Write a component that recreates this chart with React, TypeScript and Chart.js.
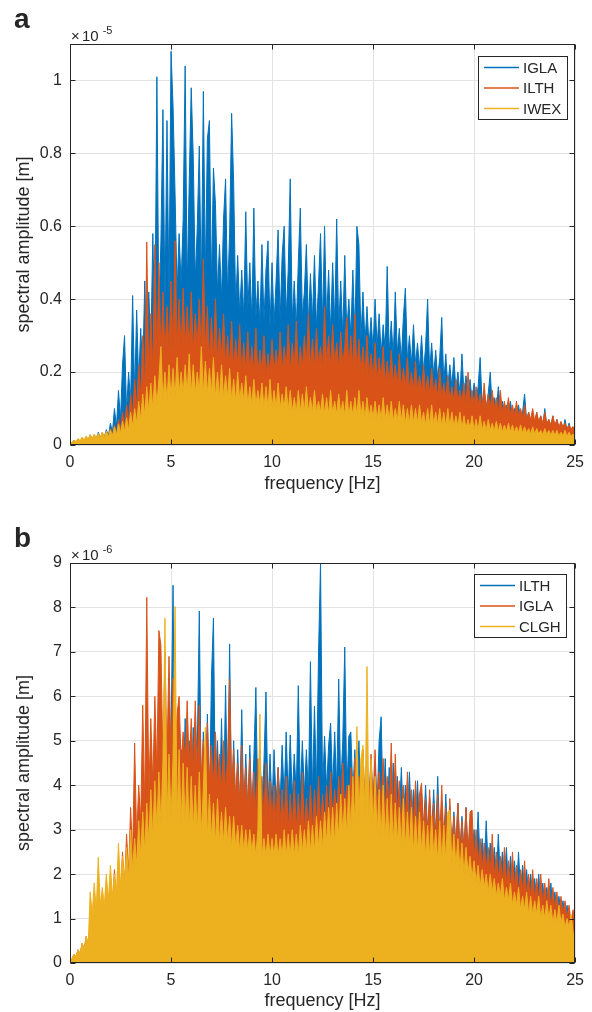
import React, { useEffect, useRef } from "react";
import { Chart, registerables } from "chart.js";

Chart.register(...registerables);

// ---------------- data ----------------
const FREQ_STEP = 0.1; // Hz between spectral samples (0 … 25 Hz)
const X_TICKS = [0, 5, 10, 15, 20, 25];
const X_TICK_LABELS = ["0", "5", "10", "15", "20", "25"];

const Y_TICKS_A = [0, 0.2, 0.4, 0.6, 0.8, 1];
const Y_TICK_LABELS_A = ["0", "0.2", "0.4", "0.6", "0.8", "1"];
const Y_TICKS_B = [0, 1, 2, 3, 4, 5, 6, 7, 8, 9];
const Y_TICK_LABELS_B = ["0", "1", "2", "3", "4", "5", "6", "7", "8", "9"];

const NAMES_A = ["IGLA", "ILTH", "IWEX"];
const NAMES_B = ["ILTH", "IGLA", "CLGH"];
const COLORS = ["#0072BD", "#D95319", "#EDB120"];

// panel a, amplitudes in units of 1e-5 m (one row per Hz)
const IGLA_A = [
  0.0, 0.008, 0.012, 0.008, 0.015, 0.01, 0.017, 0.012, 0.02, 0.014,
  0.028, 0.016, 0.024, 0.018, 0.035, 0.02, 0.032, 0.022, 0.042, 0.025,
  0.06, 0.035, 0.1, 0.05, 0.15, 0.07, 0.22, 0.3, 0.09, 0.2,
  0.12, 0.41, 0.14, 0.37, 0.17, 0.32, 0.2, 0.45, 0.24, 0.42,
  0.26, 0.58, 0.3, 1.01, 0.34, 0.56, 0.92, 0.38, 0.89, 0.4,
  1.08, 0.93, 0.69, 0.42, 0.58, 0.44, 0.62, 1.04, 0.43, 0.72,
  0.98, 0.79, 0.45, 0.6, 0.82, 0.42, 0.97, 0.46, 0.84, 0.89,
  0.44, 0.76, 0.66, 0.42, 0.55, 0.4, 0.62, 0.73, 0.41, 0.58,
  0.91, 0.72, 0.38, 0.52, 0.36, 0.48, 0.35, 0.64, 0.37, 0.5,
  0.34, 0.65, 0.35, 0.45, 0.33, 0.55, 0.34, 0.48, 0.56, 0.32,
  0.5, 0.33, 0.45, 0.59, 0.34, 0.52, 0.6, 0.35, 0.48, 0.73,
  0.34, 0.45, 0.32, 0.5, 0.65, 0.35, 0.42, 0.55, 0.33, 0.47,
  0.34, 0.52, 0.32, 0.44, 0.58, 0.33, 0.6, 0.34, 0.48, 0.31,
  0.5, 0.33, 0.62, 0.32, 0.45, 0.3, 0.52, 0.31, 0.4, 0.3,
  0.48, 0.3, 0.6, 0.55, 0.29, 0.42, 0.28, 0.38, 0.27, 0.35,
  0.26, 0.4, 0.27, 0.36, 0.25, 0.33, 0.26, 0.49, 0.25, 0.34,
  0.24, 0.42, 0.25, 0.32, 0.23, 0.35, 0.43, 0.23, 0.3, 0.22,
  0.33, 0.22, 0.28, 0.21, 0.3, 0.2, 0.27, 0.4, 0.2, 0.28,
  0.19, 0.26, 0.18, 0.24, 0.35, 0.17, 0.25, 0.16, 0.22, 0.16,
  0.24, 0.15, 0.2, 0.14, 0.25, 0.14, 0.19, 0.13, 0.18, 0.12,
  0.17, 0.12, 0.16, 0.24, 0.11, 0.15, 0.1, 0.14, 0.2, 0.1,
  0.13, 0.09, 0.16, 0.09, 0.12, 0.08, 0.11, 0.08, 0.12, 0.075,
  0.1, 0.07, 0.11, 0.07, 0.09, 0.14, 0.065, 0.09, 0.06, 0.08,
  0.055, 0.09, 0.055, 0.08, 0.05, 0.1, 0.05, 0.07, 0.05, 0.08,
  0.045, 0.07, 0.045, 0.06, 0.04, 0.07, 0.04, 0.06, 0.035, 0.05,
  0.03,
];

const ILTH_A = [
  0.0, 0.006, 0.012, 0.007, 0.015, 0.008, 0.018, 0.01, 0.022, 0.012,
  0.025, 0.013, 0.028, 0.015, 0.03, 0.017, 0.035, 0.018, 0.038, 0.02,
  0.045, 0.025, 0.055, 0.03, 0.07, 0.04, 0.09, 0.05, 0.11, 0.06,
  0.14, 0.08, 0.18, 0.1, 0.22, 0.13, 0.3, 0.15, 0.557, 0.18,
  0.36, 0.2, 0.55, 0.22, 0.5, 0.24, 0.42, 0.25, 0.38, 0.26,
  0.45, 0.26, 0.56, 0.27, 0.4, 0.26, 0.43, 0.27, 0.38, 0.26,
  0.42, 0.26, 0.36, 0.27, 0.4, 0.25, 0.51, 0.26, 0.38, 0.24,
  0.35, 0.24, 0.4, 0.23, 0.32, 0.24, 0.36, 0.22, 0.3, 0.22,
  0.34, 0.21, 0.29, 0.22, 0.33, 0.2, 0.28, 0.21, 0.31, 0.2,
  0.27, 0.2, 0.32, 0.19, 0.26, 0.2, 0.3, 0.19, 0.25, 0.2,
  0.29, 0.2, 0.26, 0.21, 0.31, 0.2, 0.27, 0.21, 0.33, 0.2,
  0.28, 0.21, 0.34, 0.2, 0.27, 0.21, 0.3, 0.22, 0.36, 0.21,
  0.29, 0.21, 0.32, 0.22, 0.27, 0.21, 0.38, 0.22, 0.3, 0.21,
  0.33, 0.22, 0.28, 0.21, 0.31, 0.22, 0.27, 0.35, 0.21, 0.3,
  0.21, 0.36, 0.2, 0.29, 0.2, 0.27, 0.19, 0.3, 0.19, 0.25,
  0.18, 0.28, 0.18, 0.24, 0.18, 0.27, 0.17, 0.23, 0.17, 0.26,
  0.17, 0.22, 0.16, 0.25, 0.16, 0.21, 0.16, 0.24, 0.15, 0.2,
  0.15, 0.23, 0.15, 0.19, 0.15, 0.22, 0.14, 0.19, 0.14, 0.21,
  0.14, 0.18, 0.13, 0.21, 0.13, 0.17, 0.13, 0.19, 0.12, 0.16,
  0.12, 0.18, 0.12, 0.15, 0.12, 0.17, 0.11, 0.2, 0.11, 0.15,
  0.11, 0.16, 0.11, 0.14, 0.1, 0.17, 0.1, 0.14, 0.1, 0.15,
  0.1, 0.13, 0.09, 0.15, 0.09, 0.12, 0.09, 0.13, 0.085, 0.11,
  0.08, 0.12, 0.08, 0.1, 0.075, 0.11, 0.07, 0.09, 0.07, 0.1,
  0.065, 0.09, 0.065, 0.08, 0.06, 0.09, 0.06, 0.07, 0.055, 0.08,
  0.055, 0.07, 0.05, 0.065, 0.05, 0.06, 0.045, 0.055, 0.045, 0.05,
  0.04,
];

const IWEX_A = [
  0.0, 0.008, 0.012, 0.01, 0.018, 0.012, 0.022, 0.014, 0.025, 0.016,
  0.028, 0.018, 0.03, 0.019, 0.032, 0.02, 0.035, 0.021, 0.038, 0.022,
  0.042, 0.025, 0.05, 0.028, 0.058, 0.032, 0.065, 0.036, 0.075, 0.04,
  0.09, 0.05, 0.1, 0.06, 0.12, 0.07, 0.14, 0.08, 0.16, 0.09,
  0.17, 0.1, 0.19, 0.11, 0.18, 0.27, 0.12, 0.2, 0.12, 0.22,
  0.13, 0.21, 0.13, 0.24, 0.14, 0.2, 0.14, 0.22, 0.14, 0.25,
  0.14, 0.22, 0.14, 0.2, 0.14, 0.27, 0.14, 0.23, 0.14, 0.21,
  0.14, 0.24, 0.13, 0.2, 0.13, 0.22, 0.13, 0.19, 0.13, 0.21,
  0.12, 0.18, 0.12, 0.2, 0.12, 0.17, 0.12, 0.19, 0.11, 0.16,
  0.11, 0.18, 0.11, 0.15, 0.11, 0.17, 0.1, 0.16, 0.1, 0.18,
  0.1, 0.15, 0.1, 0.17, 0.1, 0.14, 0.1, 0.16, 0.095, 0.15,
  0.09, 0.13, 0.09, 0.15, 0.09, 0.14, 0.09, 0.16, 0.09, 0.13,
  0.09, 0.15, 0.09, 0.12, 0.09, 0.14, 0.085, 0.13, 0.085, 0.15,
  0.085, 0.12, 0.085, 0.14, 0.085, 0.12, 0.08, 0.15, 0.08, 0.12,
  0.08, 0.13, 0.08, 0.15, 0.08, 0.12, 0.075, 0.13, 0.075, 0.11,
  0.075, 0.12, 0.07, 0.11, 0.07, 0.13, 0.07, 0.11, 0.07, 0.12,
  0.065, 0.1, 0.065, 0.12, 0.065, 0.11, 0.06, 0.1, 0.06, 0.11,
  0.06, 0.1, 0.06, 0.11, 0.06, 0.09, 0.055, 0.1, 0.055, 0.11,
  0.055, 0.09, 0.055, 0.1, 0.05, 0.09, 0.05, 0.1, 0.05, 0.09,
  0.05, 0.08, 0.05, 0.09, 0.045, 0.08, 0.045, 0.07, 0.045, 0.08,
  0.04, 0.07, 0.04, 0.08, 0.04, 0.065, 0.04, 0.07, 0.04, 0.06,
  0.038, 0.065, 0.038, 0.06, 0.036, 0.055, 0.036, 0.06, 0.035, 0.055,
  0.034, 0.05, 0.034, 0.055, 0.032, 0.05, 0.032, 0.045, 0.03, 0.05,
  0.03, 0.045, 0.03, 0.04, 0.028, 0.045, 0.028, 0.04, 0.027, 0.04,
  0.026, 0.04, 0.025, 0.035, 0.025, 0.04, 0.024, 0.035, 0.024, 0.03,
  0.02,
];

// panel b, amplitudes in units of 1e-6 m (one row per Hz)
const ILTH_B = [
  0.0, 0.06, 0.1, 0.08, 0.15, 0.1, 0.2, 0.13, 0.25, 0.16,
  0.35, 0.22, 0.45, 0.3, 0.55, 0.38, 0.65, 0.45, 0.75, 0.5,
  0.9, 0.6, 1.1, 0.75, 1.3, 0.9, 1.6, 1.1, 1.9, 1.3,
  2.4, 1.6, 3.0, 2.0, 3.5, 2.4, 3.8, 2.7, 4.2, 3.0,
  4.5, 3.2, 4.8, 3.4, 5.0, 3.5, 4.7, 3.5, 5.2, 3.6,
  5.0, 8.5, 3.6, 5.2, 3.6, 4.8, 3.7, 5.5, 3.6, 5.0,
  3.6, 5.3, 3.6, 4.8, 7.92, 3.6, 5.2, 3.5, 5.6, 3.5,
  6.4, 7.76, 3.5, 5.0, 3.5, 5.5, 3.5, 6.25, 3.5, 7.18,
  3.5, 5.0, 3.4, 4.8, 3.4, 5.7, 3.4, 4.7, 3.4, 4.9,
  3.4, 4.6, 6.2, 3.4, 4.8, 3.4, 4.5, 6.1, 3.5, 4.7,
  3.5, 4.8, 3.6, 4.4, 3.6, 4.9, 3.7, 5.2, 3.7, 5.13,
  3.7, 4.7, 3.8, 6.24, 3.8, 5.0, 3.8, 4.8, 3.8, 6.78,
  3.8, 5.78, 3.9, 6.93, 9.0, 3.9, 5.1, 3.9, 4.9, 5.4,
  3.9, 5.2, 3.9, 6.39, 3.9, 5.0, 7.11, 3.8, 5.1, 5.2,
  3.8, 4.8, 3.7, 5.0, 3.7, 4.5, 3.6, 4.7, 3.6, 4.6,
  3.5, 4.5, 3.5, 5.0, 5.54, 3.4, 4.6, 3.4, 4.4, 3.3,
  4.5, 3.3, 4.2, 3.3, 4.4, 3.2, 4.0, 3.2, 4.3, 3.1,
  3.9, 3.1, 4.1, 3.0, 3.8, 3.0, 4.0, 2.9, 3.7, 2.9,
  3.9, 2.8, 4.2, 2.8, 3.6, 2.7, 3.8, 2.7, 3.5, 2.6,
  3.4, 2.6, 3.6, 2.5, 3.3, 2.5, 3.5, 2.4, 3.2, 2.3,
  3.0, 2.3, 3.4, 2.2, 2.8, 2.1, 3.2, 2.1, 2.7, 2.0,
  2.6, 1.9, 2.9, 1.9, 2.5, 1.8, 2.6, 1.7, 2.4, 1.7,
  2.3, 1.6, 2.5, 1.6, 2.2, 1.5, 2.1, 1.5, 2.0, 1.4,
  1.9, 1.4, 2.0, 1.3, 1.8, 1.3, 1.7, 1.2, 1.8, 1.2,
  1.6, 1.1, 1.5, 1.1, 1.4, 1.0, 1.3, 0.9, 1.0, 0.8,
  0.6,
];

const IGLA_B = [
  0.0, 0.1, 0.2, 0.15, 0.3, 0.2, 0.45, 0.3, 0.6, 0.4,
  0.75, 0.5, 1.0, 0.6, 1.3, 0.8, 1.5, 0.9, 1.8, 1.1,
  1.9, 1.2, 2.1, 1.3, 2.3, 1.5, 2.5, 1.7, 2.9, 2.0,
  3.5, 2.4, 4.95, 2.8, 4.0, 3.2, 5.8, 3.5, 8.23, 3.8,
  5.5, 4.0, 6.0, 4.3, 7.48, 7.15, 4.5, 7.0, 4.6, 6.9,
  4.6, 6.4, 4.6, 5.6, 6.0, 4.5, 5.2, 4.5, 5.9, 4.4,
  5.5, 4.3, 5.9, 4.3, 5.8, 4.2, 5.0, 4.2, 5.4, 4.1,
  4.9, 4.0, 5.2, 4.0, 4.7, 3.9, 5.0, 3.9, 4.6, 6.39,
  3.8, 4.8, 3.7, 4.5, 3.6, 4.9, 3.6, 4.4, 3.5, 4.6,
  3.4, 4.3, 3.4, 4.6, 3.3, 4.2, 3.3, 4.5, 3.2, 4.1,
  3.2, 4.0, 3.1, 4.4, 3.1, 3.9, 3.1, 4.2, 3.0, 3.8,
  3.0, 4.1, 3.0, 3.8, 3.0, 4.3, 3.0, 3.7, 3.0, 4.0,
  3.0, 3.9, 3.1, 4.2, 3.1, 3.8, 3.1, 4.0, 3.2, 4.3,
  3.2, 3.9, 3.3, 4.2, 3.3, 4.5, 3.4, 4.0, 3.4, 4.4,
  3.5, 4.6, 3.5, 4.2, 3.6, 4.8, 3.6, 4.4, 3.6, 4.7,
  3.6, 4.8, 3.5, 4.3, 3.5, 4.6, 3.4, 4.2, 3.4, 4.95,
  3.3, 4.7, 3.3, 4.1, 3.2, 4.0, 3.2, 4.3, 3.1, 3.9,
  3.1, 4.1, 3.0, 3.8, 4.05, 3.0, 3.7, 2.9, 3.9, 2.9,
  3.6, 2.8, 3.8, 2.8, 4.0, 2.7, 3.5, 2.7, 3.7, 2.6,
  3.3, 2.6, 3.6, 2.5, 3.2, 2.5, 3.5, 2.4, 3.4, 3.44,
  2.3, 3.0, 2.2, 2.8, 2.1, 2.7, 2.1, 2.6, 2.0, 2.9,
  1.9, 2.5, 1.9, 2.4, 1.8, 2.6, 1.8, 2.3, 1.7, 2.5,
  1.7, 2.2, 1.6, 2.1, 1.6, 2.3, 1.5, 2.0, 1.5, 2.1,
  1.4, 1.9, 1.4, 2.0, 1.3, 1.8, 1.3, 1.9, 1.2, 1.7,
  1.2, 1.6, 1.1, 1.5, 1.1, 1.4, 1.0, 1.3, 0.9, 1.2,
  0.8,
];

const CLGH_B = [
  0.0, 0.1, 0.2, 0.15, 0.3, 0.2, 0.45, 0.3, 0.6, 0.4,
  1.6, 1.1, 1.8, 1.2, 2.38, 1.3, 1.7, 1.3, 2.0, 1.4,
  2.2, 1.5, 2.0, 1.6, 2.7, 1.7, 2.4, 1.8, 2.6, 1.9,
  3.0, 2.1, 2.8, 2.2, 3.2, 2.4, 3.4, 2.5, 3.6, 2.7,
  3.9, 2.8, 4.1, 3.0, 4.3, 3.1, 4.5, 7.76, 3.2, 4.7,
  3.2, 4.6, 8.02, 3.2, 4.8, 3.1, 4.5, 3.1, 4.4, 3.0,
  4.2, 3.0, 4.0, 2.9, 4.3, 2.9, 3.9, 5.3, 2.8, 3.8,
  2.8, 3.6, 2.7, 3.7, 2.7, 3.4, 2.7, 3.5, 2.7, 3.3,
  2.6, 3.3, 2.6, 3.1, 2.5, 3.1, 2.5, 3.0, 2.5, 3.0,
  2.5, 2.9, 2.4, 3.0, 5.6, 2.4, 2.8, 2.4, 2.9, 2.4,
  2.8, 2.4, 2.9, 2.4, 2.8, 2.4, 3.0, 2.4, 2.9, 2.4,
  3.0, 2.4, 2.9, 2.4, 3.1, 2.5, 3.0, 2.5, 3.2, 2.5,
  3.1, 2.5, 3.3, 2.6, 3.2, 2.6, 3.4, 2.7, 3.5, 2.7,
  3.5, 2.7, 3.6, 2.8, 3.8, 2.9, 3.7, 2.9, 4.0, 3.0,
  4.2, 3.1, 5.32, 3.2, 4.6, 4.9, 3.3, 6.67, 3.1, 4.6,
  3.0, 4.2, 2.9, 3.9, 2.8, 4.0, 2.8, 3.7, 2.7, 3.8,
  2.7, 3.6, 2.7, 3.5, 2.6, 3.7, 2.6, 3.4, 2.6, 3.5,
  2.5, 3.3, 2.5, 3.4, 2.5, 3.2, 2.4, 3.1, 2.4, 3.3,
  2.4, 3.0, 2.3, 3.2, 2.3, 3.1, 2.3, 3.4, 3.44, 2.2,
  2.9, 2.2, 2.8, 2.1, 2.7, 2.0, 2.6, 2.0, 2.4, 1.9,
  2.3, 1.8, 2.2, 1.7, 2.1, 1.7, 2.0, 1.6, 2.0, 1.6,
  1.9, 1.5, 1.8, 1.5, 1.9, 1.4, 1.7, 1.4, 1.8, 1.3,
  1.6, 1.3, 1.7, 1.2, 1.5, 1.2, 1.6, 1.1, 1.5, 1.1,
  1.4, 1.1, 1.5, 1.0, 1.3, 1.0, 1.4, 1.0, 1.3, 0.9,
  1.2, 0.9, 1.3, 0.9, 1.1, 0.8, 1.0, 0.8, 1.1, 0.7,
  0.5,
];

// ---------------- styling ----------------
const FONT = '"Liberation Sans", Arial, Helvetica, sans-serif';
const INK = "#262626";
const GRID = "#e3e3e3";

type PanelProps = {
  top: number;
  height: number;
  padTop: number;
  xScaleHeight: number;
  titleBottomPad: number;
  letter: string;
  letterBaseline: number;
  exponent: string;
  yMax: number;
  yTicks: number[];
  yTickLabels: string[];
  names: string[];
  series: number[][];
  legend: { x: number; y: number; w: number; h: number };
};

function Panel(p: PanelProps) {
  const ref = useRef<HTMLCanvasElement>(null);

  useEffect(() => {
    const canvas = ref.current!;
    const datasets = p.series.map((vals, i) => ({
      label: p.names[i],
      data: vals.map((v, k) => ({ x: k * FREQ_STEP, y: v })),
      borderColor: COLORS[i],
      backgroundColor: COLORS[i],
      borderWidth: 1,
      pointRadius: 0,
      fill: "origin",
      tension: 0,
      order: 3 - i,
    }));

    const decor = {
      id: "decor",
      afterDraw(chart: any) {
        const { ctx, chartArea: a } = chart;
        const xs = chart.scales.x;
        const ys = chart.scales.y;
        ctx.save();
        const L = Math.round(a.left) + 0.5;
        const R = Math.round(a.right) - 0.5;
        const T = Math.round(a.top) + 0.5;
        const B = Math.round(a.bottom) - 0.5;
        ctx.strokeStyle = INK;
        ctx.lineWidth = 1;
        ctx.strokeRect(L, T, R - L, B - T);
        ctx.beginPath();
        X_TICKS.forEach((v) => {
          const x = Math.round(xs.getPixelForValue(v)) + 0.5;
          ctx.moveTo(x, B);
          ctx.lineTo(x, B - 5);
          ctx.moveTo(x, T);
          ctx.lineTo(x, T + 5);
        });
        p.yTicks.forEach((v) => {
          const y = Math.round(ys.getPixelForValue(v)) + 0.5;
          ctx.moveTo(L, y);
          ctx.lineTo(L + 5, y);
          ctx.moveTo(R, y);
          ctx.lineTo(R - 5, y);
        });
        ctx.stroke();

        // exponent label
        ctx.fillStyle = INK;
        ctx.textBaseline = "alphabetic";
        ctx.textAlign = "left";
        ctx.font = `15px ${FONT}`;
        const by = a.top - 3.5;
        ctx.fillText("\u00d7", a.left + 1, by);
        ctx.fillText("10", a.left + 12, by);
        const w10 = ctx.measureText("10").width;
        ctx.font = `11px ${FONT}`;
        ctx.fillText(p.exponent, a.left + 13 + w10 + 3, by - 7);

        // panel letter
        ctx.font = `bold 28px ${FONT}`;
        ctx.fillText(p.letter, 14, p.letterBaseline);

        // legend
        const lg = p.legend;
        ctx.fillStyle = "#ffffff";
        ctx.fillRect(lg.x, lg.y, lg.w, lg.h);
        ctx.strokeStyle = INK;
        ctx.lineWidth = 1;
        ctx.strokeRect(lg.x + 0.5, lg.y + 0.5, lg.w, lg.h);
        ctx.font = `15px ${FONT}`;
        ctx.textBaseline = "middle";
        p.names.forEach((n, i) => {
          const cy = lg.y + 11.5 + i * 20.5;
          ctx.strokeStyle = COLORS[i];
          ctx.lineWidth = 1.5;
          ctx.beginPath();
          ctx.moveTo(lg.x + 6, cy);
          ctx.lineTo(lg.x + 41, cy);
          ctx.stroke();
          ctx.fillStyle = INK;
          ctx.fillText(n, lg.x + 45, cy + 1);
        });
        ctx.restore();
      },
    };

    const chart = new Chart(canvas, {
      type: "line",
      data: { datasets: datasets as any },
      options: {
        animation: false,
        responsive: false,
        maintainAspectRatio: false,
        devicePixelRatio: 1,
        events: [],
        layout: { padding: { top: p.padTop, right: 15, left: 0, bottom: 0 } },
        plugins: {
          legend: { display: false },
          tooltip: { enabled: false },
          filler: { propagate: false },
        },
        scales: {
          x: {
            type: "linear",
            min: 0,
            max: 25,
            afterBuildTicks: (s: any) => {
              s.ticks = X_TICKS.map((v) => ({ value: v }));
            },
            afterFit: (s: any) => {
              s.height = p.xScaleHeight;
            },
            ticks: {
              autoSkip: false,
              maxRotation: 0,
              padding: 8,
              color: INK,
              font: { family: FONT, size: 16 },
              callback: (v: any) => {
                const i = X_TICKS.indexOf(v);
                return i >= 0 ? X_TICK_LABELS[i] : "";
              },
            },
            grid: { color: GRID, drawTicks: false, lineWidth: 1 },
            border: { display: false },
            title: {
              display: true,
              text: "frequency [Hz]",
              color: INK,
              font: { family: FONT, size: 18 },
              padding: { top: 0, bottom: p.titleBottomPad },
            },
          },
          y: {
            type: "linear",
            min: 0,
            max: p.yMax,
            afterBuildTicks: (s: any) => {
              s.ticks = p.yTicks.map((v) => ({ value: v }));
            },
            afterFit: (s: any) => {
              s.width = 70;
            },
            ticks: {
              padding: 8,
              color: INK,
              font: { family: FONT, size: 16 },
              callback: (v: any) => {
                const i = p.yTicks.indexOf(v);
                return i >= 0 ? p.yTickLabels[i] : "";
              },
            },
            grid: { color: GRID, drawTicks: false, lineWidth: 1 },
            border: { display: false },
            title: {
              display: true,
              text: "spectral amplitude [m]",
              color: INK,
              font: { family: FONT, size: 18 },
              padding: { top: 13, bottom: 0 },
            },
          },
        },
      } as any,
      plugins: [decor],
    });
    return () => chart.destroy();
  }, []);

  return (
    <canvas
      ref={ref}
      width={592}
      height={p.height}
      style={{ position: "absolute", left: 0, top: p.top, width: 592, height: p.height }}
    />
  );
}

export default function App() {
  return (
    <div
      style={{
        position: "absolute",
        left: 0,
        top: 0,
        width: 592,
        height: 1012,
        background: "#ffffff",
        overflow: "hidden",
      }}
    >
      <Panel
        top={0}
        height={500}
        padTop={44}
        xScaleHeight={55}
        titleBottomPad={5}
        letter="a"
        letterBaseline={28}
        exponent="-5"
        yMax={1.1}
        yTicks={Y_TICKS_A}
        yTickLabels={Y_TICK_LABELS_A}
        names={NAMES_A}
        series={[IGLA_A, ILTH_A, IWEX_A]}
        legend={{ x: 478, y: 56, w: 89, h: 63 }}
      />
      <Panel
        top={500}
        height={512}
        padTop={63}
        xScaleHeight={49}
        titleBottomPad={0}
        letter="b"
        letterBaseline={47}
        exponent="-6"
        yMax={9}
        yTicks={Y_TICKS_B}
        yTickLabels={Y_TICK_LABELS_B}
        names={NAMES_B}
        series={[ILTH_B, IGLA_B, CLGH_B]}
        legend={{ x: 474, y: 74, w: 92, h: 63 }}
      />
    </div>
  );
}
